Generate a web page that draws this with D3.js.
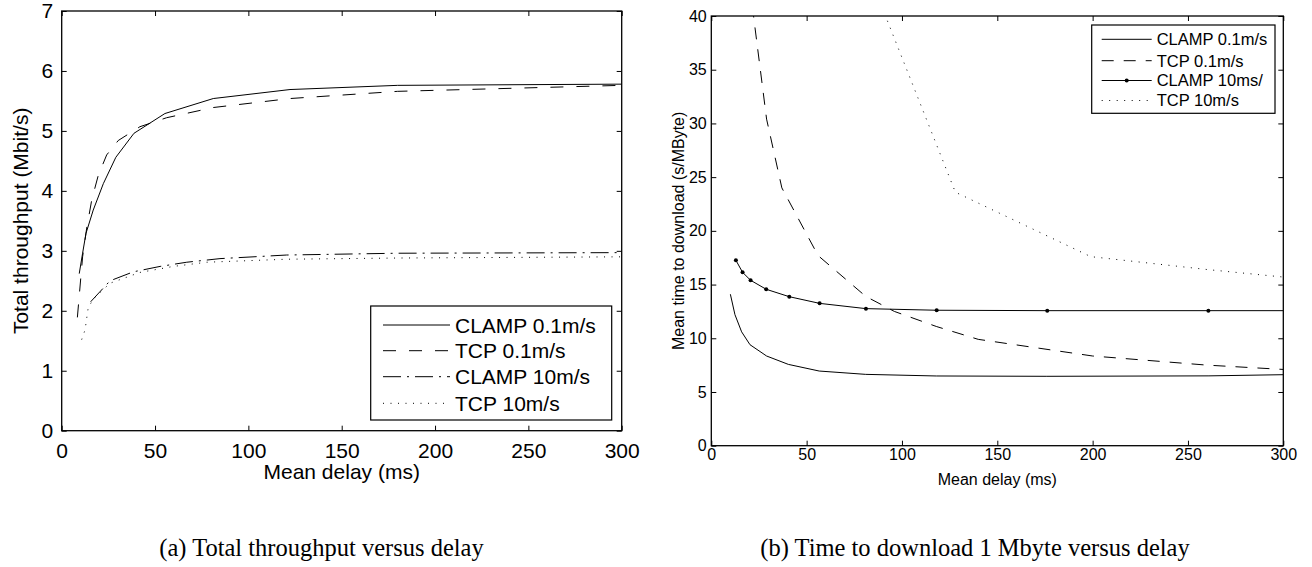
<!DOCTYPE html>
<html><head><meta charset="utf-8">
<script src="https://cdn.jsdelivr.net/npm/d3@7"></script>
<style>body{margin:0;background:#fff}</style>
</head><body><svg id="c" width="1312" height="567"></svg>
<script>
// ---------- data ----------
const xTicks = [0, 50, 100, 150, 200, 250, 300];
const aYTicks = [0, 1, 2, 3, 4, 5, 6, 7];
const bYTicks = [0, 5, 10, 15, 20, 25, 30, 35, 40];
const aNames = ["CLAMP 0.1m/s", "TCP 0.1m/s", "CLAMP 10m/s", "TCP 10m/s"];
const bNames = ["CLAMP 0.1m/s", "TCP 0.1m/s", "CLAMP 10ms/", "TCP 10m/s"];

// (a) Total throughput (Mbit/s) vs mean delay (ms)
const aClamp01 = [[9.4,2.62],[11.2,2.96],[13,3.29],[16.9,3.68],[22.3,4.12],[29,4.56],[38.7,4.96],[55.3,5.29],[81.2,5.54],[122.3,5.69],[180,5.76],[300,5.78]];
const aTcp01   = [[8.4,1.89],[11.2,2.9],[13.4,3.38],[16.1,3.85],[19.6,4.26],[24.1,4.6],[30.3,4.84],[41.9,5.07],[56.2,5.22],[81.2,5.39],[122.3,5.54],[180,5.66],[300,5.76]];
const aClamp10 = [[15.5,2.15],[25.9,2.5],[38.4,2.65],[52.7,2.74],[67,2.81],[84.8,2.87],[120.5,2.93],[180,2.96],[300,2.97]];
const aTcp10   = [[10.7,1.52],[12.5,1.68],[14.2,2.05],[17,2.2],[25.9,2.46],[41.9,2.64],[59.8,2.74],[77.7,2.81],[120.5,2.86],[180,2.88],[300,2.9]];

// (b) Mean time to download (s/MByte) vs mean delay (ms)
const bClamp01 = [[10,14.1],[12.4,12.2],[15.9,10.6],[20.3,9.4],[29,8.35],[40.4,7.57],[56.6,6.95],[81,6.64],[118,6.49],[176,6.46],[261,6.5],[300,6.61]];
const bTcp01   = [[20,43],[29,30.4],[37,24],[56,17.7],[81,13.9],[96,12.5],[118,11.1],[140,9.9],[200,8.35],[260,7.5],[300,7.1]];
const bClamp10 = [[12.9,17.26],[16.4,16.14],[20.6,15.4],[28.8,14.56],[40.9,13.87],[56.8,13.25],[81.1,12.76],[118.2,12.61],[176.2,12.57],[260.7,12.57],[300,12.57]];
const bClamp10Markers = [[12.9,17.26],[16.4,16.14],[20.6,15.4],[28.8,14.56],[40.9,13.87],[56.8,13.25],[81.1,12.76],[118.2,12.61],[176.2,12.57],[260.7,12.57]];
const bTcp10   = [[88,41.5],[128,23.6],[199,17.6],[260,16.4],[300,15.7]];

const captions = ["(a) Total throughput versus delay", "(b) Time to download 1 Mbyte versus delay"];

// ---------- drawing ----------
const svg = d3.select("#c");
svg.append("rect").attr("width",1312).attr("height",567).attr("fill","#fff");

function panel(cfg){
  const g = svg.append("g");
  const x = d3.scaleLinear().domain([0,300]).range([cfg.left, cfg.right]);
  const y = d3.scaleLinear().domain(cfg.yDomain).range([cfg.bottom, cfg.top]);
  const clipId = "clip" + cfg.id;
  svg.append("clipPath").attr("id", clipId).append("rect")
    .attr("x", cfg.left).attr("y", cfg.top)
    .attr("width", cfg.right - cfg.left).attr("height", cfg.bottom - cfg.top);

  const font = "Liberation Sans, Arial, sans-serif";
  const bx = g.append("g").attr("transform",`translate(0,${cfg.bottom})`)
    .call(d3.axisBottom(x).tickValues(xTicks).tickSize(-cfg.tick).tickPadding(cfg.xPad).tickFormat(d3.format("d")));
  const tx = g.append("g").attr("transform",`translate(0,${cfg.top})`)
    .call(d3.axisTop(x).tickValues(xTicks).tickSize(-cfg.tick).tickFormat(""));
  const ly = g.append("g").attr("transform",`translate(${cfg.left},0)`)
    .call(d3.axisLeft(y).tickValues(cfg.yTicks).tickSize(-cfg.tick).tickPadding(cfg.yPad).tickFormat(d3.format("d")));
  const ry = g.append("g").attr("transform",`translate(${cfg.right},0)`)
    .call(d3.axisRight(y).tickValues(cfg.yTicks).tickSize(-cfg.tick).tickFormat(""));
  [bx,tx,ly,ry].forEach(a=>{
    a.select(".domain").remove();
    a.selectAll(".tick line").attr("stroke","#000").attr("stroke-width",1);
    a.selectAll("text").attr("font-family",font).attr("font-size",cfg.fs).attr("fill","#000");
  });
  g.append("rect").attr("x",cfg.left).attr("y",cfg.top)
    .attr("width",cfg.right-cfg.left).attr("height",cfg.bottom-cfg.top)
    .attr("fill","none").attr("stroke","#000").attr("stroke-width",1.3);

  g.append("text").attr("x",(cfg.left+cfg.right)/2).attr("y",cfg.xLabelY)
    .attr("text-anchor","middle").attr("font-family",font).attr("font-size",cfg.fs)
    .text(cfg.xLabel);
  g.append("text").attr("transform",`translate(${cfg.yLabelX},${(cfg.top+cfg.bottom)/2}) rotate(-90)`)
    .attr("text-anchor","middle").attr("font-family",font).attr("font-size",cfg.fs)
    .text(cfg.yLabel);

  const line = d3.line().x(d=>x(d[0])).y(d=>y(d[1]));
  const pg = g.append("g").attr("clip-path",`url(#${clipId})`);
  cfg.series.forEach(s=>{
    pg.append("path").datum(s.data).attr("d",line).attr("fill","none")
      .attr("stroke","#000").attr("stroke-width",s.w||1)
      .attr("stroke-dasharray",s.dash||null);
    if(s.markers){
      pg.selectAll(null).data(s.markers).enter().append("circle")
        .attr("cx",d=>x(d[0])).attr("cy",d=>y(d[1])).attr("r",2).attr("fill","#000");
    }
  });

  const L = cfg.legend;
  g.append("rect").attr("x",L.x0).attr("y",L.y0).attr("width",L.x1-L.x0).attr("height",L.y1-L.y0)
    .attr("fill","#fff").attr("stroke","#000").attr("stroke-width",1.2);
  cfg.series.forEach((s,i)=>{
    const yy = L.rows[i];
    g.append("line").attr("x1",L.lx0).attr("x2",L.lx1).attr("y1",yy).attr("y2",yy)
      .attr("stroke","#000").attr("stroke-width",s.w||1).attr("stroke-dasharray",s.dash||null);
    if(s.markers){
      g.append("circle").attr("cx",(L.lx0+L.lx1)/2).attr("cy",yy).attr("r",2).attr("fill","#000");
    }
    g.append("text").attr("x",L.tx).attr("y",yy).attr("dy","0.36em")
      .attr("font-family",font).attr("font-size",cfg.legendFs||cfg.fs).text(cfg.names[i]);
  });
}

panel({
  id:"a", left:61.7, right:621.7, top:11, bottom:430.7, yDomain:[0,7], yTicks:aYTicks,
  tick:5, xPad:12.5, yPad:8.4, fs:21, xLabel:"Mean delay (ms)", xLabelY:479,
  yLabel:"Total throughput (Mbit/s)", yLabelX:27.5, names:aNames,
  series:[
    {data:aClamp01},
    {data:aTcp01, dash:"13,13"},
    {data:aClamp10, dash:"18,6,2,6"},
    {data:aTcp10, dash:"1,6.5"}
  ],
  legend:{x0:370.7,x1:611.7,y0:306,y1:420,rows:[325,350.7,376.7,403.3],lx0:383,lx1:450,tx:455}
});

panel({
  id:"b", left:711.3, right:1283.3, top:16, bottom:445.7, yDomain:[0,40], yTicks:bYTicks,
  tick:5, xPad:3, yPad:4.6, fs:16, legendFs:16.5, xLabel:"Mean delay (ms)", xLabelY:485,
  yLabel:"Mean time to download (s/MByte)", yLabelX:684, names:bNames,
  series:[
    {data:bClamp01},
    {data:bTcp01, dash:"12,10"},
    {data:bClamp10, markers:bClamp10Markers},
    {data:bTcp10, dash:"1,6.5"}
  ],
  legend:{x0:1091.7,x1:1275,y0:25,y1:113.3,rows:[39.3,60.7,80.5,100.5],lx0:1101.7,lx1:1151.7,tx:1156.7}
});

const captionX = [321.5, 975];
svg.selectAll(".cap").data(captions).enter().append("text")
  .attr("class","cap")
  .attr("x",(d,i)=>captionX[i]).attr("y",556).attr("text-anchor","middle")
  .attr("font-family","Liberation Serif, Times New Roman, serif").attr("font-size",24.5)
  .text(d=>d);
</script>
</body></html>
